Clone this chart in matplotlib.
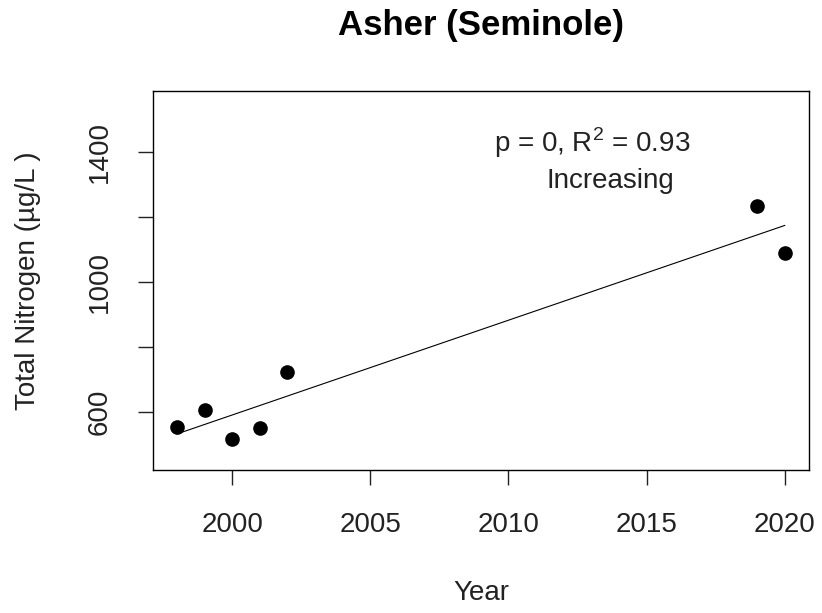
import numpy as np
import matplotlib
matplotlib.use('Agg')
import matplotlib.pyplot as plt

plt.rcParams['font.family'] = ['Liberation Sans', 'DejaVu Sans']
plt.rcParams['mathtext.fontset'] = 'custom'
plt.rcParams['mathtext.rm'] = 'Liberation Sans'

years = [1998, 1999, 2000, 2001, 2002, 2019, 2020]
tn = [553, 606, 516, 550, 723, 1236, 1089]
x_ticks = [2000, 2005, 2010, 2015, 2020]
y_ticks = [600, 800, 1000, 1200, 1400]
y_labels = ['600', '', '1000', '', '1400']

W, H = 822, 613
fig = plt.figure(figsize=(W / 100, H / 100), dpi=100)
L, R, T, B = 152.7, 809, 91, 470
ax = fig.add_axes([L / W, 1 - B / H, (R - L) / W, (B - T) / H])

ax.plot(years, tn, 'o', color='black', markersize=9.5)

# linear trend
slope, icpt = np.polyfit(years, tn, 1)
xs = np.array([min(years), max(years)])
ax.plot(xs, icpt + slope * xs, color='black', linewidth=0.8)

ax.set_xlim(1997.12, 2020.88)
ax.set_ylim(421, 1589)
ax.set_xticks(x_ticks)
ax.set_yticks(y_ticks)
ax.set_yticklabels(y_labels)
for s in ax.spines.values():
    s.set_linewidth(1.0)
ax.tick_params(length=11, width=1.0, labelsize=20, colors='#222222')
ax.tick_params(axis='x', pad=19)
ax.tick_params(axis='y', pad=18, labelrotation=90)
for lab in ax.get_yticklabels():
    lab.set_va('center')

ax.text(2013.03, 1430, 'p = 0, R$^\\mathrm{2}$ = 0.93', ha='center', va='center',
        fontsize=20, color='#222222')
ax.text(2013.68, 1312, 'Increasing', ha='center', va='center',
        fontsize=20, color='#222222')

fig.text((L + R) / 2 / W, 1 - 25 / H, 'Asher (Seminole)', ha='center', va='center',
         fontsize=25, fontweight='bold')
fig.text((L + R) / 2 / W, 1 - 593 / H, 'Year', ha='center', va='center',
         fontsize=20, color='#222222')
fig.text(28 / W, 1 - (T + B) / 2 / H, 'Total Nitrogen (µg/L )', ha='center', va='center',
         rotation=90, fontsize=20, color='#222222')

plt.savefig('out.png', dpi=100)
